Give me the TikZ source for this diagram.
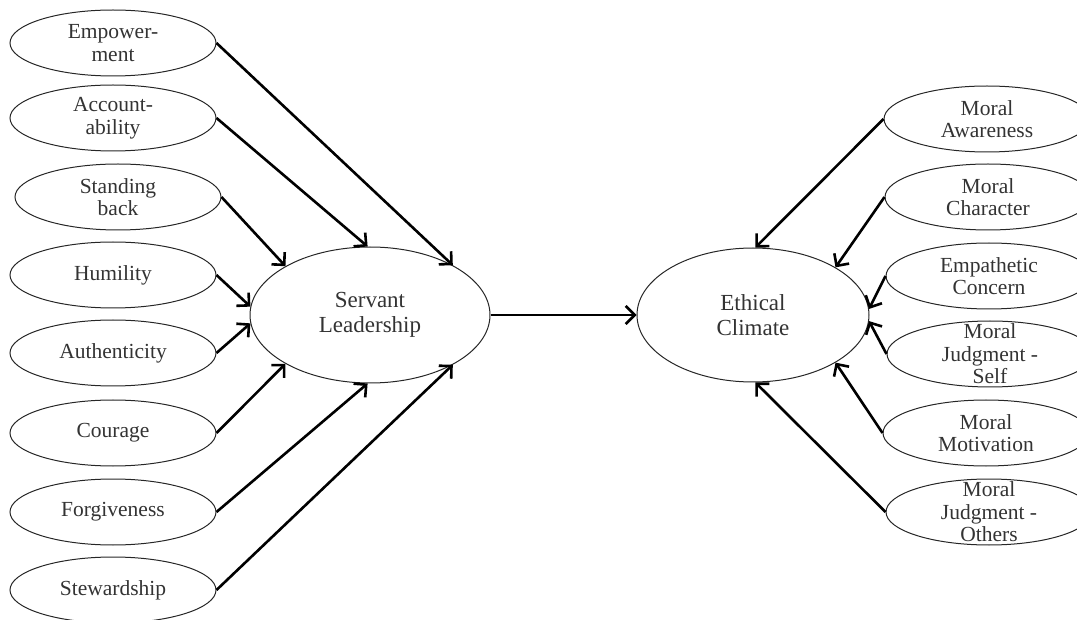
\documentclass[tikz,border=0pt]{standalone}
\usepackage{fontspec}
\setmainfont{Liberation Serif}
\usetikzlibrary{shapes.geometric,arrows.meta}
\begin{document}
\begin{tikzpicture}[x=1pt,y=-1pt,
  leaf/.style={ellipse, draw=black!85, line width=1pt, minimum width=206pt, minimum height=66pt, inner sep=0pt},
  big/.style={ellipse, draw=black!85, line width=1pt, inner sep=0pt},
  lbl/.style={align=center, text=black!80, font=\fontsize{21.5}{22.5}\selectfont, inner sep=0pt},
  blbl/.style={lbl, font=\fontsize{23}{25}\selectfont},
  arr/.style={-{Straight Barb[length=9pt,width=18pt]}, line width=2.6pt}]
\useasboundingbox (0,0) rectangle (1077,620);
\clip (0,0) rectangle (1077,620);
% left
\node[leaf, label={[lbl]center:{Empower-\\ment}}] (emp) at (113,43) {};
\node[leaf, label={[lbl]center:{Account-\\ability}}] (acc) at (113,118) {};
\node[leaf, label={[lbl]center:{Standing\\back}}] (std) at (118,197) {};
\node[leaf, label={[lbl]center:{Humility}}] (hum) at (113,275) {};
\node[leaf, label={[lbl]center:{Authenticity}}] (aut) at (113,353) {};
\node[leaf, label={[lbl]center:{Courage}}] (cou) at (113,433) {};
\node[leaf, label={[lbl]center:{Forgiveness}}] (for) at (113,512) {};
\node[leaf, label={[lbl]center:{Stewardship}}] (stw) at (113,590) {};
% centre
\node[big, minimum width=240pt, minimum height=136pt, label={[blbl]center:{Servant\\Leadership}}] (sl) at (370,315) {};
\node[big, minimum width=232pt, minimum height=134pt, label={[blbl]center:{Ethical\\Climate}}] (ec) at (753,315) {};
% right
\node[leaf, label={[lbl]center:{Moral\\Awareness}}] (maw) at (987,119) {};
\node[leaf, label={[lbl]center:{Moral\\Character}}] (mch) at (988,197) {};
\node[leaf, label={[lbl]center:{Empathetic\\Concern}}] (emc) at (989,276) {};
\node[leaf, label={[lbl]center:{Moral\\Judgment -\\Self}}] (mjs) at (990,354) {};
\node[leaf, label={[lbl]center:{Moral\\Motivation}}] (mmo) at (986,433) {};
\node[leaf, label={[lbl]center:{Moral\\Judgment -\\Others}}] (mjo) at (989,512) {};
% arrows left
\draw[arr] (emp.east) -- (sl.31);
\draw[arr] (acc.east) -- (sl.92);
\draw[arr] (std.east) -- (sl.150);
\draw[arr] (hum.east) -- (sl.176);
\draw[arr] (aut.east) -- (sl.184);
\draw[arr] (cou.east) -- (sl.210);
\draw[arr] (for.east) -- (sl.268);
\draw[arr] (stw.east) -- (sl.329);
% middle
\draw[arr] (sl.east) -- (ec.west);
% arrows right
\draw[arr] (maw.west) -- (ec.88);
\draw[arr] (mch.west) -- (ec.30);
\draw[arr] (emc.west) -- (ec.3);
\draw[arr] (mjs.west) -- (ec.-3);
\draw[arr] (mmo.west) -- (ec.-30);
\draw[arr] (mjo.west) -- (ec.-88);
\end{tikzpicture}
\end{document}
